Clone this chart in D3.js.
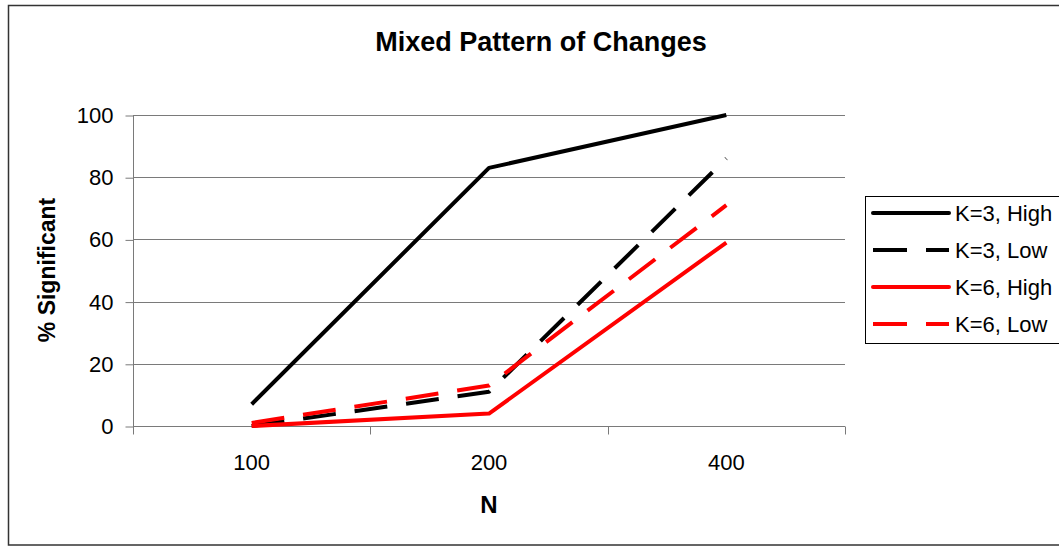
<!DOCTYPE html>
<html>
<head>
<meta charset="utf-8">
<script src="https://cdn.jsdelivr.net/npm/d3@7"></script>
<style>
  html, body { margin: 0; padding: 0; background: #fff; }
  svg { display: block; font-family: "Liberation Sans", Arial, sans-serif; }
</style>
</head>
<body>
<svg id="chart" width="1059" height="546"></svg>
<script>
// Sample sizes on the x axis
const categories = ["100", "200", "400"];
// Percent significant per series
const k3High = [7, 83, 100];
const k3Low = [0, 11, 86];
const k6High = [0, 4, 59];
const k6Low = [1, 13, 71];
const seriesNames = ["K=3, High", "K=3, Low", "K=6, High", "K=6, Low"];
const yTicks = [0, 20, 40, 60, 80, 100];

const series = [
  { name: seriesNames[0], values: k3High, color: "#000000", dashed: false },
  { name: seriesNames[1], values: k3Low, color: "#000000", dashed: true },
  { name: seriesNames[2], values: k6High, color: "#ff0000", dashed: false },
  { name: seriesNames[3], values: k6Low, color: "#ff0000", dashed: true }
];

const svg = d3.select("#chart");
const plot = { left: 133, right: 845, top: 115, bottom: 426 };
const FONT = "Liberation Sans, Arial, sans-serif";

// Outer chart frame
svg.append("rect")
  .attr("x", 8.5).attr("y", 5.5)
  .attr("width", 1100).attr("height", 539.5)
  .attr("fill", "#fff").attr("stroke", "#333").attr("stroke-width", 1.5);

const x = d3.scaleBand().domain(categories).range([plot.left, plot.right]);
const y = d3.scaleLinear().domain([0, 100]).range([plot.bottom, plot.top]);
const cx = c => x(c) + x.bandwidth() / 2;

// Horizontal gridlines
svg.append("g").selectAll("line")
  .data(yTicks.filter(t => t > 0))
  .join("line")
  .attr("x1", plot.left).attr("x2", plot.right)
  .attr("y1", d => Math.round(y(d)) + 0.5).attr("y2", d => Math.round(y(d)) + 0.5)
  .attr("stroke", "#7a7a7a").attr("stroke-width", 1);

// Y axis
const yAxis = svg.append("g")
  .attr("transform", `translate(${plot.left + 0.5},0.5)`)
  .call(d3.axisLeft(y).tickValues(yTicks).tickSize(8).tickPadding(12));
yAxis.select(".domain").attr("stroke", "#7a7a7a").attr("d", `M0,${Math.round(y(100))}V${Math.round(y(0))}`);
yAxis.selectAll(".tick line").attr("stroke", "#7a7a7a");
yAxis.selectAll(".tick text").attr("font-size", 22).attr("fill", "#000")
  .attr("font-family", FONT);

// X axis: labels centred in each band, ticks at band boundaries
const xAxis = svg.append("g")
  .attr("transform", `translate(0,${Math.round(plot.bottom) + 0.5})`)
  .call(d3.axisBottom(x).tickSize(0).tickPadding(28));
xAxis.select(".domain").remove();
xAxis.selectAll(".tick text").attr("font-size", 22).attr("fill", "#000")
  .attr("font-family", FONT);
xAxis.append("line")
  .attr("x1", plot.left).attr("x2", plot.right)
  .attr("stroke", "#7a7a7a");
const edges = categories.map(c => x(c)).concat([x(categories[categories.length - 1]) + x.bandwidth()]);
xAxis.selectAll(".edge").data(edges).join("line")
  .attr("class", "edge")
  .attr("x1", d => Math.round(d) + 0.5).attr("x2", d => Math.round(d) + 0.5)
  .attr("y1", 0).attr("y2", 8)
  .attr("stroke", "#7a7a7a");

// Series lines
const line = d3.line().x((d, i) => cx(categories[i])).y(d => y(d));
svg.append("g").selectAll("path")
  .data(series)
  .join("path")
  .attr("d", d => line(d.values))
  .attr("fill", "none")
  .attr("stroke", d => d.color)
  .attr("stroke-width", 4)
  .attr("stroke-linejoin", "round")
  .attr("stroke-dasharray", d => d.dashed ? "33,19" : null);

// Title and axis titles
svg.append("text")
  .attr("x", 541).attr("y", 51)
  .attr("text-anchor", "middle")
  .attr("font-size", 27).attr("font-weight", "bold")
  .text("Mixed Pattern of Changes");

svg.append("text")
  .attr("transform", `translate(55,270) rotate(-90)`)
  .attr("text-anchor", "middle")
  .attr("font-size", 23).attr("font-weight", "bold")
  .text("% Significant");

svg.append("text")
  .attr("x", cx(categories[1])).attr("y", 513)
  .attr("text-anchor", "middle")
  .attr("font-size", 24).attr("font-weight", "bold")
  .text("N");

// Legend
const legend = svg.append("g");
legend.append("rect")
  .attr("x", 865.5).attr("y", 196.5)
  .attr("width", 300).attr("height", 147)
  .attr("fill", "#fff").attr("stroke", "#000").attr("stroke-width", 1);
const rows = legend.selectAll(".row").data(series).join("g")
  .attr("class", "row")
  .attr("transform", (d, i) => `translate(0,${213 + i * 37})`);
rows.append("line")
  .attr("x1", 873).attr("x2", 949)
  .attr("stroke", d => d.color)
  .attr("stroke-width", 4)
  .attr("stroke-linecap", d => d.dashed ? "butt" : "round")
  .attr("stroke-dasharray", d => d.dashed ? "34,19" : null);
rows.append("text")
  .attr("x", 955).attr("y", 8)
  .attr("font-size", 22)
  .text(d => d.name);
</script>
</body>
</html>
